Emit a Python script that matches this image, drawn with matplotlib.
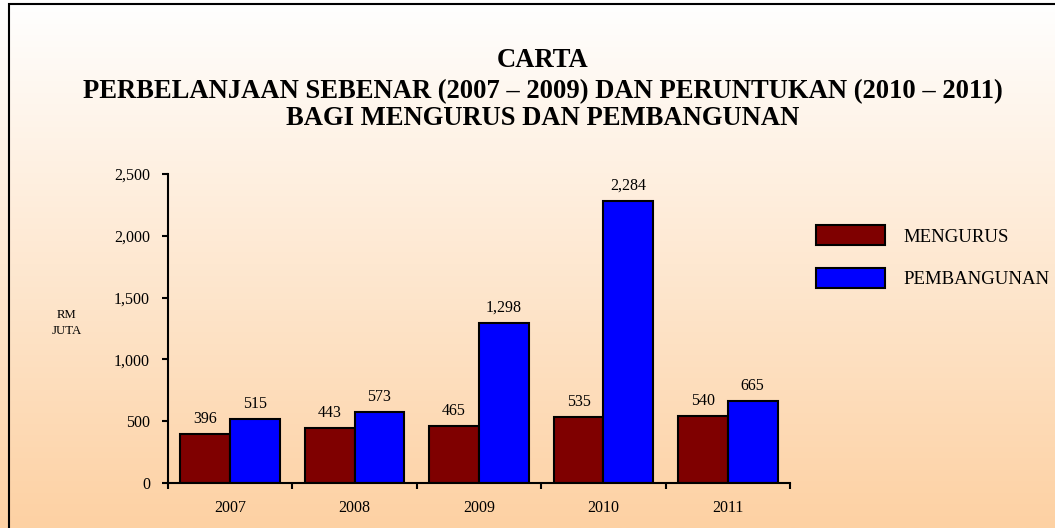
import numpy as np
import matplotlib
matplotlib.use("Agg")
import matplotlib.pyplot as plt
from matplotlib.patches import Rectangle
from matplotlib.ticker import FuncFormatter, FixedLocator

# ---- data ----
years = ["2007", "2008", "2009", "2010", "2011"]
mengurus = [396, 443, 465, 535, 540]
pembangunan = [515, 573, 1298, 2284, 665]
series_names = ["MENGURUS", "PEMBANGUNAN"]
title_lines = ["CARTA",
               "PERBELANJAAN SEBENAR (2007 \u2013 2009) DAN PERUNTUKAN (2010 \u2013 2011)",
               "BAGI MENGURUS DAN PEMBANGUNAN"]
ylabel_text = "RM\nJUTA"
yticks = [0, 500, 1000, 1500, 2000, 2500]

plt.rcParams['font.family'] = ['Liberation Serif', 'DejaVu Serif']

W, H = 1055, 528
fig = plt.figure(figsize=(W / 100, H / 100), dpi=100)

# gradient background
ax_bg = fig.add_axes([0, 0, 1, 1], zorder=-10)
top = np.array([255, 255, 255]) / 255
bot = np.array([253, 209, 163]) / 255
t = np.linspace(0, 1, 256)[:, None]
grad = top[None, :] * (1 - t) + bot[None, :] * t
ax_bg.imshow(grad[:, None, :], aspect='auto', extent=[0, 1, 0, 1], origin='upper')
ax_bg.set_axis_off()

# main axes
ax = fig.add_axes([168 / W, 45 / H, (790 - 168) / W, (483 - 174) / H])
ax.patch.set_alpha(0)
x = np.arange(len(years))
bw = 0.4
b1 = ax.bar(x - bw / 2, mengurus, bw, color='#7F0000', edgecolor='black',
            linewidth=1.5, label=series_names[0])
b2 = ax.bar(x + bw / 2, pembangunan, bw, color='#0000FF', edgecolor='black',
            linewidth=1.5, label=series_names[1])

for xs, vals in ((x - bw / 2, mengurus), (x + bw / 2, pembangunan)):
    for xi, v in zip(xs, vals):
        ax.annotate(f"{v:,}", (xi, v), xytext=(0, 5), textcoords='offset points',
                    ha='center', va='bottom', fontsize=11.5)

ax.set_xlim(-0.5, len(years) - 0.5)
ax.set_ylim(0, 2500)
ax.set_yticks(yticks)
ax.yaxis.set_major_formatter(FuncFormatter(lambda v, p: f"{int(v):,}"))
ax.xaxis.set_major_locator(FixedLocator(np.arange(-0.5, len(years), 1.0)))
ax.xaxis.set_minor_locator(FixedLocator(x))
ax.set_xticklabels([])
ax.set_xticks(x, minor=True)
ax.set_xticklabels(years, minor=True)
ax.tick_params(axis='x', which='major', direction='out', length=4, width=1.5)
ax.tick_params(axis='x', which='minor', length=0, pad=12, labelsize=11.5)
ax.tick_params(axis='y', direction='out', length=4, width=1.5, pad=9, labelsize=11.5)
for s in ('top', 'right'):
    ax.spines[s].set_visible(False)
for s in ('left', 'bottom'):
    ax.spines[s].set_linewidth(1.5)

ax.legend(loc='upper left', bbox_to_anchor=(816 / W, 1 - 225 / H),
          bbox_transform=fig.transFigure, frameon=False, fontsize=13.5,
          handlelength=3.68, handleheight=1.3, handletextpad=1.0,
          labelspacing=1.2, borderpad=0, borderaxespad=0)

fig.text(67 / W, 1 - 323 / H, ylabel_text, ha='center', va='center',
         fontsize=9.2, linespacing=1.4)

# titles
baselines = [67, 98, 125]
texts = []
for line, yb in zip(title_lines, baselines):
    texts.append(fig.text(543 / W, 1 - yb / H, line, ha='center', va='baseline',
                          fontsize=19, fontweight='bold'))
fig.canvas.draw()
r = fig.canvas.get_renderer()
w = texts[1].get_window_extent(renderer=r).width
scale = 921 / w
for tx in texts:
    tx.set_fontsize(19 * scale)

# border (top/left visible, right/bottom clipped)
fig.add_artist(Rectangle((8.5 / W, -0.5), 2.0, 0.5 + 1 - 3.5 / H,
                         transform=fig.transFigure, fill=False,
                         linewidth=1.5, edgecolor='black'))

fig.savefig("out.png", dpi=100)
